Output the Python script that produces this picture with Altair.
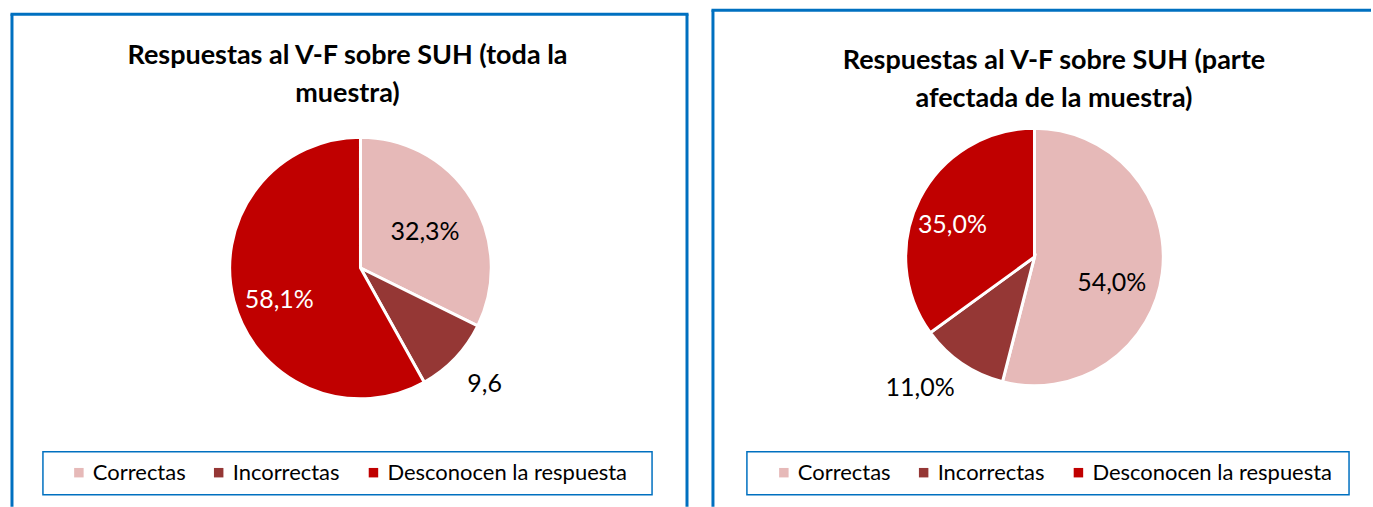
import altair as alt
import pandas as pd

FONT = "Lato"
BLUE = "#0070C0"

categories = ["Correctas", "Incorrectas", "Desconocen la respuesta"]
colors = ["#E6B9B8", "#953735", "#C00000"]

total_values = [32.3, 9.6, 58.1]
total_labels = ["32,3%", "9,6", "58,1%"]
total_title = ["Respuestas al V-F sobre SUH (toda la", "muestra)"]

affected_values = [54.0, 11.0, 35.0]
affected_labels = ["54,0%", "11,0%", "35,0%"]
affected_title = ["Respuestas al V-F sobre SUH (parte", "afectada de la muestra)"]

LABEL_COLORS = {"Correctas": "black", "Incorrectas": "black",
                "Desconocen la respuesta": "white"}


def panel(values, labels, title_lines, width, cx, cy, r, bx, by, right_bx,
          box_x, box_x2, legend_x, title_dx, title_offset, label_style):
    df = pd.DataFrame({
        "category": categories,
        "value": values,
        "label": labels,
        "order": list(range(len(categories))),
    })
    base = (
        alt.Chart(df)
        .transform_stack(stack="value", groupby=[], as_=["v0", "v1"],
                         sort=[alt.SortField("order")])
        .transform_calculate(mid="(datum.v0 + datum.v1) / 2")
    )
    theta_scale = alt.Scale(domain=[0, 100])
    arcs = base.mark_arc(outerRadius=r, stroke="white", strokeWidth=3).encode(
        theta=alt.Theta("v0:Q", scale=theta_scale),
        theta2="v1:Q",
        color=alt.Color(
            "category:N",
            scale=alt.Scale(domain=categories, range=colors),
            sort=categories,
            legend=alt.Legend(
                title=None, orient="none", legendX=legend_x, legendY=462,
                direction="horizontal", padding=0, symbolType="square",
                symbolSize=90, symbolStrokeWidth=0, labelOffset=3,
                columnPadding=22, labelFont=FONT, labelFontSize=22,
                labelColor="black", labelLimit=400,
            ),
        ),
        x=alt.value(cx),
        y=alt.value(cy),
    )
    text_layers = []
    for cat in categories:
        rad, dx, dy = label_style[cat]
        text_layers.append(
            base.transform_filter(alt.datum.category == cat).mark_text(
                radius=rad, dx=dx, dy=dy, font=FONT, fontSize=25,
                align="center", baseline="middle", color=LABEL_COLORS[cat],
            ).encode(
                theta=alt.Theta("mid:Q", scale=theta_scale),
                text="label:N",
                x=alt.value(cx), y=alt.value(cy),
            )
        )
    layers = [
        alt.Chart().mark_rule(color=BLUE, strokeWidth=3).encode(
            x=alt.value(bx), y=alt.value(by), y2=alt.value(507)),
        alt.Chart().mark_rule(color=BLUE, strokeWidth=3).encode(
            x=alt.value(bx - 1.5), x2=alt.value(min(right_bx + 1.5, width)),
            y=alt.value(by)),
        alt.Chart().mark_rect(fill="white", stroke=BLUE, strokeWidth=1.5).encode(
            x=alt.value(box_x), x2=alt.value(box_x2),
            y=alt.value(452), y2=alt.value(495)),
    ]
    if right_bx <= width:
        layers.append(alt.Chart().mark_rule(color=BLUE, strokeWidth=3).encode(
            x=alt.value(right_bx), y=alt.value(by), y2=alt.value(507)))
    layers += [arcs] + text_layers
    return alt.layer(*layers).properties(
        width=width, height=507,
        title=alt.TitleParams(
            text=title_lines, font=FONT, fontSize=27, fontWeight="bold",
            color="black", anchor="middle", lineHeight=38,
            offset=title_offset, dx=title_dx,
        ),
    )


left = panel(total_values, total_labels, total_title, 700, 361, 268, 131,
             12, 14, 688, 43, 653, 68, -2, -108,
             {"Correctas": (82, -5, 7), "Incorrectas": (173, -1, -3),
              "Desconocen la respuesta": (82, -2, 11)})
right = panel(affected_values, affected_labels, affected_title, 673, 336, 257, 129,
              14, 10, 690, 48, 651, 74, 19, -113,
              {"Correctas": (81, -3, 16), "Incorrectas": (170, -19, -9),
               "Desconocen la respuesta": (81, -10, 5)})

chart = (
    alt.hconcat(left, right, spacing=0)
    .resolve_scale(color="independent", theta="independent")
    .resolve_legend(color="independent")
    .properties(padding=0)
    .configure_view(stroke=None)
)

chart.save("out.html", embed_options={"renderer": "svg", "actions": False})
